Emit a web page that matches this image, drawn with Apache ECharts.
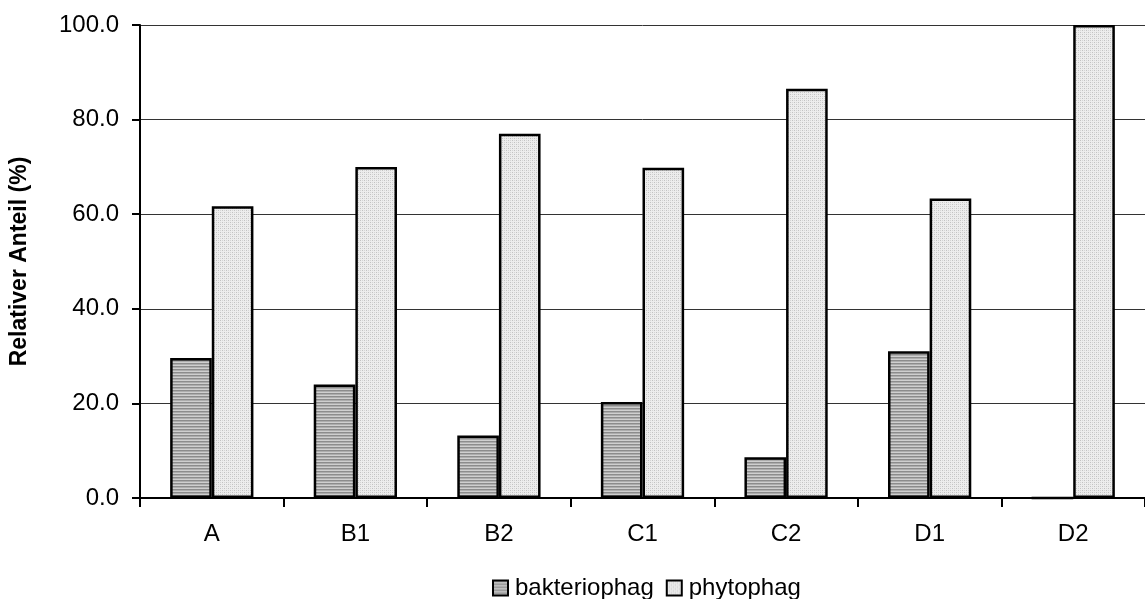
<!DOCTYPE html>
<html><head><meta charset="utf-8">
<script src="https://cdn.jsdelivr.net/npm/echarts@6/dist/echarts.min.js"></script>
<style>html,body{margin:0;padding:0;background:#fff;overflow:hidden}#c{width:1145px;height:599px}</style>
</head><body><div id="c"></div>
<script>
const categories = ['A','B1','B2','C1','C2','D1','D2'];
const bakteriophag = [29.6, 24.0, 13.2, 20.3, 8.6, 31.0, 0];
const phytophag = [61.7, 70.0, 77.0, 69.8, 86.5, 63.3, 100.0];
const yTicks = [0, 20, 40, 60, 80, 100];

function stripePattern(){
  const c = document.createElement('canvas'); c.width = 4; c.height = 3;
  const g = c.getContext('2d');
  g.fillStyle = '#cfcfcf'; g.fillRect(0,0,4,3);
  g.fillStyle = '#8c8c8c'; g.fillRect(0,0,4,1);
  g.fillStyle = '#adadad'; g.fillRect(0,1,4,1);
  return c;
}
function dotPattern(){
  const c = document.createElement('canvas'); c.width = 4; c.height = 4;
  const g = c.getContext('2d');
  g.fillStyle = '#ededed'; g.fillRect(0,0,4,4);
  g.fillStyle = '#c2c2c2'; g.fillRect(0,0,1,1); g.fillRect(2,2,1,1);
  g.fillStyle = '#d5d5d5'; g.fillRect(2,0,1,1); g.fillRect(0,2,1,1);
  return c;
}
const pA = {image: stripePattern(), repeat: 'repeat'};
const pB = {image: dotPattern(), repeat: 'repeat'};

const chart = echarts.init(document.getElementById('c'), null, {renderer:'canvas'});
chart.setOption({
  animation: false,
  textStyle: {fontFamily: 'Liberation Sans, Arial, sans-serif'},
  grid: {left: 131, width: 1020, top: 25, bottom: 101, containLabel: false},
  legend: {
    top: 571, left: 487, itemWidth: 15, itemHeight: 15, itemGap: 12,
    icon: 'rect',
    textStyle: {fontSize: 24, color: '#000', padding: [0,0,0,2]},
    data: [
      {name: 'bakteriophag', itemStyle: {color: pA, borderColor: '#000', borderWidth: 2}},
      {name: 'phytophag', itemStyle: {color: pB, borderColor: '#000', borderWidth: 2}}
    ]
  },
  xAxis: {
    type: 'category', data: categories,
    axisLine: {lineStyle: {color: '#000', width: 2}},
    axisTick: {show: true, length: 9, lineStyle: {color: '#000', width: 2}},
    axisLabel: {fontSize: 24, color: '#000', margin: 24}
  },
  yAxis: {
    type: 'value', min: 0, max: 100, interval: 20,
    name: 'Relativer Anteil (%)', nameLocation: 'middle', nameGap: 109,
    nameTextStyle: {fontSize: 23, fontWeight: 'bold', color: '#000'},
    axisLine: {show: true, lineStyle: {color: '#000', width: 2}},
    axisTick: {show: true, length: 8, inside: false, lineStyle: {color: '#000', width: 2}},
    axisLabel: {fontSize: 24, color: '#000', margin: 21, formatter: v => yTicks.includes(v) ? v.toFixed(1) : ''},
    splitLine: {lineStyle: {color: '#333', width: 1}}
  },
  series: [
    {name: 'bakteriophag', type: 'bar', data: bakteriophag, barGap: '0%', barCategoryGap: '42%',
     itemStyle: {color: pA, borderColor: '#000', borderWidth: 2.5}},
    {name: 'phytophag', type: 'bar', data: phytophag, barGap: '0%', barCategoryGap: '42%',
     itemStyle: {color: pB, borderColor: '#000', borderWidth: 2.5}}
  ]
});
</script></body></html>
